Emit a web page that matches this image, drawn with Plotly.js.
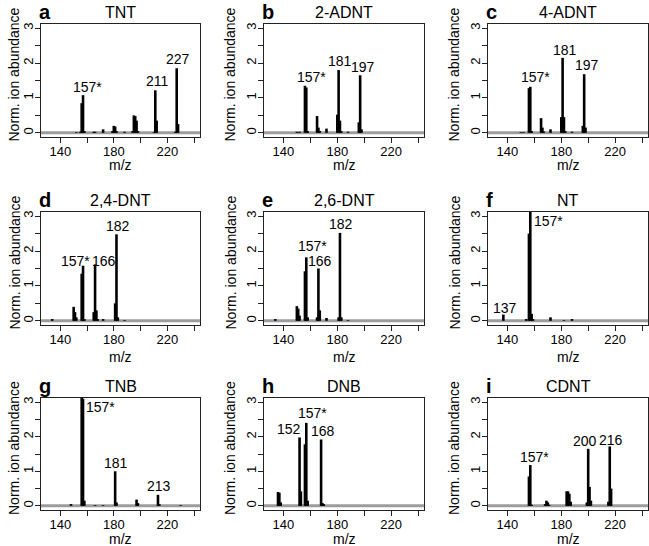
<!DOCTYPE html>
<html>
<head>
<meta charset="utf-8">
<script src="https://cdn.plot.ly/plotly-3.0.1.min.js"></script>
<style>html,body{margin:0;padding:0;background:#fff}#chart{width:649px;height:546px}</style>
</head>
<body>
<div id="chart"></div>
<script>
// ---- data ----
const titles = ["TNT", "2-ADNT", "4-ADNT", "2,4-DNT", "2,6-DNT", "NT", "TNB", "DNB", "CDNT"];
const letters = ["a", "b", "c", "d", "e", "f", "g", "h", "i"];

const mzTNT = [152, 155, 156, 157, 158, 165, 166, 172, 179, 180, 181, 182, 188, 194, 195, 196, 197, 198, 210, 211, 212, 226, 227, 228];
const abTNT = [0.02, 0.03, 0.85, 1.08, 0.05, 0.03, 0.03, 0.1, 0.05, 0.2, 0.18, 0.05, 0.03, 0.05, 0.5, 0.48, 0.35, 0.05, 0.02, 1.22, 0.35, 0.03, 1.85, 0.25];
const mz2ADNT = [150, 152, 156, 157, 158, 165, 166, 167, 172, 180, 181, 182, 183, 188, 196, 197, 198];
const ab2ADNT = [0.03, 0.03, 1.35, 1.3, 0.05, 0.48, 0.15, 0.05, 0.12, 0.52, 1.8, 0.35, 0.05, 0.03, 0.3, 1.65, 0.1];
const mz4ADNT = [150, 152, 156, 157, 158, 165, 166, 167, 172, 180, 181, 182, 183, 188, 196, 197, 198];
const ab4ADNT = [0.02, 0.02, 1.28, 1.32, 0.05, 0.42, 0.15, 0.04, 0.1, 0.45, 2.15, 0.45, 0.05, 0.03, 0.2, 1.68, 0.15];
const mz24DNT = [134, 150, 151, 152, 156, 157, 158, 165, 166, 167, 168, 172, 181, 182, 183, 188];
const ab24DNT = [0.05, 0.4, 0.25, 0.1, 1.35, 1.58, 0.05, 0.25, 1.62, 0.3, 0.05, 0.05, 0.5, 2.48, 0.1, 0.02];
const mz26DNT = [134, 150, 151, 152, 156, 157, 158, 165, 166, 167, 172, 181, 182, 183, 188];
const ab26DNT = [0.05, 0.42, 0.35, 0.15, 1.42, 1.82, 0.1, 0.1, 1.5, 0.3, 0.08, 0.1, 2.52, 0.1, 0.02];
const mzNT = [137, 154, 156, 157, 158, 159, 172, 182, 188];
const abNT = [0.18, 0.05, 2.5, 3.3, 0.2, 0.05, 0.1, 0.02, 0.05];
const mzTNB = [148, 156, 157, 158, 166, 172, 181, 182, 197, 198, 213, 214, 230];
const abTNB = [0.05, 3.3, 3.1, 0.15, 0.02, 0.02, 1.0, 0.1, 0.18, 0.08, 0.32, 0.05, 0.02];
const mzDNB = [136, 137, 138, 152, 153, 156, 157, 158, 168, 169, 170];
const abDNB = [0.4, 0.38, 0.1, 1.98, 0.42, 1.78, 2.4, 0.15, 1.92, 0.08, 0.05];
const mzCDNT = [156, 157, 158, 168, 169, 170, 171, 184, 185, 186, 187, 199, 200, 201, 202, 215, 216, 217];
const abCDNT = [0.85, 1.18, 0.03, 0.05, 0.15, 0.1, 0.03, 0.42, 0.42, 0.35, 0.12, 0.1, 1.65, 0.55, 0.15, 0.12, 1.72, 0.5];

// peak labels: text, m/z anchor, abundance anchor
const lblTNT = ["157*", "211", "227"],   lblMzTNT = [160.5, 212.5, 228],   lblAbTNT = [1.14, 1.3, 1.93];
const lbl2ADNT = ["157*", "181", "197"], lblMz2ADNT = [160.6, 181.8, 198.8], lblAb2ADNT = [1.43, 1.9, 1.71];
const lbl4ADNT = ["157*", "181", "197"], lblMz4ADNT = [161, 183, 199],     lblAb4ADNT = [1.44, 2.21, 1.78];
const lbl24DNT = ["157*", "166", "182"], lblMz24DNT = [151.5, 173, 183.1], lblAb24DNT = [1.53, 1.53, 2.54];
const lbl26DNT = ["157*", "166", "182"], lblMz26DNT = [161.3, 167, 183],   lblAb26DNT = [1.96, 1.55, 2.59];
const lblNT = ["137", "157*"],           lblMzNT = [138.5, 158.3],         lblAbNT = [0.2, 2.86];
const lblTNB = ["157*", "181", "213"],   lblMzTNB = [158, 181.6, 213.9],   lblAbTNB = [2.85, 1.07, 0.4];
const lblDNB = ["152", "157*", "168"],   lblMzDNB = [144.5, 161.3, 169.6], lblAbDNB = [2.04, 2.5, 1.98];
const lblCDNT = ["157*", "200", "216"],  lblMzCDNT = [159.9, 197.6, 217],  lblAbCDNT = [1.24, 1.71, 1.74];

const xTickVals = [140, 180, 220];
const xTickText = ["140", "180", "220"];
const yTickVals = [0, 1, 2, 3];
const yTickText = ["0", "1", "2", "3"];

// ---- assembly ----
const spectraMz = [mzTNT, mz2ADNT, mz4ADNT, mz24DNT, mz26DNT, mzNT, mzTNB, mzDNB, mzCDNT];
const spectraAb = [abTNT, ab2ADNT, ab4ADNT, ab24DNT, ab26DNT, abNT, abTNB, abDNB, abCDNT];
const labelTexts = [lblTNT, lbl2ADNT, lbl4ADNT, lbl24DNT, lbl26DNT, lblNT, lblTNB, lblDNB, lblCDNT];
const labelMz = [lblMzTNT, lblMz2ADNT, lblMz4ADNT, lblMz24DNT, lblMz26DNT, lblMzNT, lblMzTNB, lblMzDNB, lblMzCDNT];
const labelAb = [lblAbTNT, lblAb2ADNT, lblAb4ADNT, lblAb24DNT, lblAb26DNT, lblAbNT, lblAbTNB, lblAbDNB, lblAbCDNT];
// labels that sit to the right of a clipped peak
const sideLabel = {5: [1], 6: [0]};

const W = 649, H = 546;
const colLeft = [41, 264, 488], colRight = [200, 424, 648];
const rowTop = [24, 212, 398], rowBot = [137, 325, 510];
const ytitleOff = [27, 34, 34];
const xtitleOff = [28, 32, 29];
const FONT = "Liberation Sans, Arial, sans-serif";
const AX = "#222";

const traces = [];
const layout = {
  width: W, height: H,
  margin: {l: 0, r: 0, t: 0, b: 0},
  paper_bgcolor: "#fff", plot_bgcolor: "#fff",
  showlegend: false,
  font: {family: FONT, color: "#000"},
  shapes: [], annotations: []
};

for (let i = 0; i < 9; i++) {
  const r = Math.floor(i / 3), c = i % 3;
  const s = i === 0 ? "" : String(i + 1);
  const xa = "x" + s, ya = "y" + s;

  layout["xaxis" + s] = {
    domain: [colLeft[c] / W, colRight[c] / W], anchor: ya,
    range: [125.6, 244.4], showgrid: false, zeroline: false,
    showline: true, mirror: true, linecolor: AX, linewidth: 1,
    tickmode: "array", tickvals: xTickVals, ticktext: xTickText,
    ticks: "outside", ticklen: 5, tickwidth: 1, tickcolor: AX, ticklabelstandoff: -3,
    tickfont: {size: 13, family: FONT, color: "#000"},
    minor: {tickmode: "linear", tick0: 140, dtick: 20, ticks: "outside", ticklen: 5, tickwidth: 1, tickcolor: AX, showgrid: false},
    fixedrange: true
  };
  layout["yaxis" + s] = {
    domain: [1 - rowBot[r] / H, 1 - rowTop[r] / H], anchor: xa,
    range: [-0.12, 3.12], showgrid: false, zeroline: false,
    showline: true, mirror: true, linecolor: AX, linewidth: 1,
    tickmode: "array", tickvals: yTickVals, ticktext: yTickText, tickangle: -90,
    ticks: "outside", ticklen: 5, tickwidth: 1, tickcolor: AX, ticklabelstandoff: -3,
    tickfont: {size: 13, family: FONT, color: "#000"},
    minor: {tickmode: "linear", tick0: 0, dtick: 0.5, ticks: "outside", ticklen: 5, tickwidth: 1, tickcolor: AX, showgrid: false},
    fixedrange: true
  };

  // stick spectrum
  const xs = [], ys = [];
  spectraMz[i].forEach((m, k) => { xs.push(m, m, null); ys.push(0, spectraAb[i][k], null); });
  traces.push({type: "scatter", mode: "lines", x: xs, y: ys, xaxis: xa, yaxis: ya,
    line: {color: "#000", width: 2.6}, hoverinfo: "skip", connectgaps: false});

  // gray baseline
  layout.shapes.push({type: "line", xref: xa + " domain", yref: ya, x0: 0, x1: 1, y0: 0, y1: 0,
    line: {color: "#9c9c9c", width: 3}, layer: "below"});

  const cx = (colLeft[c] + colRight[c]) / 2;
  // title
  layout.annotations.push({xref: "paper", yref: "paper", x: cx / W, y: 1 - (rowTop[r] - 11.5) / H,
    xanchor: "center", yanchor: "middle", showarrow: false, text: titles[i],
    font: {size: 16, family: FONT, color: "#000"}});
  // panel letter
  layout.annotations.push({xref: "paper", yref: "paper", x: (colLeft[c] - 3) / W, y: 1 - (rowTop[r] - 12.5) / H,
    xanchor: "left", yanchor: "middle", showarrow: false, text: "<b>" + letters[i] + "</b>",
    font: {size: 20, family: FONT, color: "#000"}, borderpad: 0});
  // x title
  layout.annotations.push({xref: "paper", yref: "paper", x: cx / W, y: 1 - (rowBot[r] + xtitleOff[r]) / H,
    xanchor: "center", yanchor: "middle", showarrow: false, text: "m/z",
    font: {size: 14, family: FONT, color: "#000"}, borderpad: 0});
  // y title
  layout.annotations.push({xref: "paper", yref: "paper", x: (colLeft[c] - ytitleOff[c]) / W,
    y: 1 - ((rowTop[r] + rowBot[r]) / 2 - 6) / H,
    xanchor: "center", yanchor: "middle", showarrow: false, textangle: -90, text: "Norm. ion abundance",
    font: {size: 14, family: FONT, color: "#000"}});

  // peak labels
  const side = sideLabel[i] || [];
  labelTexts[i].forEach((t, k) => {
    const isSide = side.indexOf(k) >= 0;
    layout.annotations.push({xref: xa, yref: ya, x: labelMz[i][k], y: labelAb[i][k],
      xanchor: isSide ? "left" : "center", yanchor: isSide ? "middle" : "bottom",
      yshift: isSide ? 0 : -4, showarrow: false, text: t,
      font: {size: 14, family: FONT, color: "#000"}});
  });
}

Plotly.newPlot("chart", traces, layout, {displayModeBar: false, staticPlot: true});
</script>
</body>
</html>
